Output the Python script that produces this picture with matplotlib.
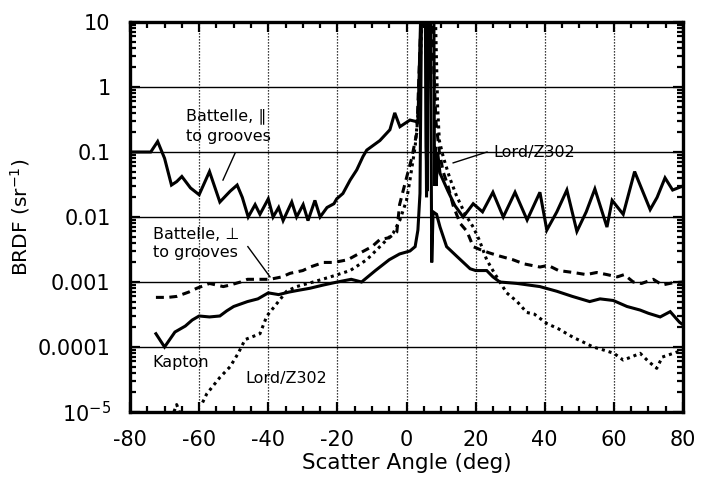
import numpy as np
import matplotlib
matplotlib.use("Agg")
import matplotlib.pyplot as plt
from matplotlib.ticker import FixedLocator, FixedFormatter, LogLocator, NullFormatter

# ---- data ----
bat_par_x = [-80, -74, -72, -70, -68, -66.5, -65, -62.5, -60, -57, -54, -52, -51, -49, -47.5,
             -45.8, -43.8, -42.4, -40, -38.6, -37, -35.7, -33.2, -31.8, -29.9, -28.5, -26.5,
             -25, -23, -21, -20.2, -18.4, -16.3, -14.4, -12.6, -11.5, -7.7, -4.8, -3.4, -1.9,
             1, 3.3, 4.3, 5.6, 5.7, 6.0, 6.3, 7.9, 8.1, 8.3, 8.6, 9.0, 9.7, 12, 14, 16.4, 19.3,
             22, 25, 28, 31.4, 34.9, 38.6, 40.6, 43.5, 46.4, 49.3, 52, 54.5, 58, 59.5, 62.7,
             66, 70.5, 72.5, 74.8, 77, 80]
bat_par_y = [0.1, 0.1, 0.145, 0.08, 0.031, 0.035, 0.042, 0.028, 0.022, 0.05, 0.017, 0.022,
             0.025, 0.031, 0.02, 0.01, 0.0155, 0.011, 0.019, 0.01, 0.014, 0.0088, 0.017, 0.01,
             0.0155, 0.0088, 0.018, 0.01, 0.014, 0.016, 0.019, 0.023, 0.037, 0.053, 0.085,
             0.107, 0.15, 0.22, 0.4, 0.245, 0.31, 0.29, 30, 30, 0.12, 0.025, 30, 30, 0.03,
             0.12, 0.03, 0.1, 0.047, 0.025, 0.015, 0.01, 0.016, 0.012, 0.024, 0.01, 0.024,
             0.009, 0.024, 0.0063, 0.012, 0.026, 0.006, 0.012, 0.027, 0.007, 0.018, 0.011,
             0.05, 0.013, 0.02, 0.04, 0.026, 0.03]

kapton_x = [-72.5, -70, -67, -64, -62, -60, -57, -54, -52, -50, -46, -43, -40, -37, -34,
            -31, -28, -24, -20, -16, -13, -9, -5, -2, 1, 2.5, 3.3, 3.9, 4.4, 5.4, 5.8, 6.4,
            6.9, 7.3, 7.7, 8.7, 9.7, 11.6, 14.5, 18.4, 20, 23.2, 25, 27, 32, 38.6, 43.5, 48,
            53, 56, 59.8, 63.8, 67.6, 70, 73.4, 76.3, 79, 80]
kapton_y = [0.00016, 0.0001, 0.00017, 0.00021, 0.00026, 0.0003, 0.00029, 0.0003, 0.00036,
            0.00042, 0.0005, 0.00055, 0.00068, 0.00064, 0.0007, 0.00075, 0.0008, 0.0009,
            0.001, 0.0011, 0.001, 0.0015, 0.0022, 0.0027, 0.003, 0.0035, 0.0063, 0.023, 30,
            30, 0.02, 30, 30, 0.002, 0.012, 0.011, 0.007, 0.0035, 0.0025, 0.0016, 0.0015,
            0.0015, 0.0012, 0.001, 0.00095, 0.00085, 0.00072, 0.0006, 0.0005, 0.00055,
            0.00052, 0.00042, 0.00037, 0.00033, 0.00029, 0.00035, 0.00024, 0.00022]

bat_perp_x = [-72.5, -69, -66.5, -63, -60.7, -57, -53, -51, -48, -46, -42, -39.5, -36, -33.7,
              -30, -27.9, -24, -21, -17, -13.4, -10, -7.7, -5, -2.8, -2, -1, 0, 1.5, 3, 4.5,
              7, 8.5, 9.5, 10.6, 12, 13.5, 15.5, 17.5, 19.3, 21, 24, 27, 30.8, 34, 38.6, 41,
              44, 48.3, 52, 55, 58, 61, 63, 65.6, 68, 71.4, 74, 77, 80]
bat_perp_y = [0.00058, 0.00058, 0.0006, 0.0007, 0.0008, 0.00095, 0.00085, 0.0009, 0.001,
              0.0011, 0.0011, 0.0011, 0.0012, 0.00136, 0.0015, 0.0017, 0.002, 0.002, 0.0022,
              0.0028, 0.0035, 0.0045, 0.0048, 0.0059, 0.0155, 0.025, 0.04, 0.08, 0.2, 30, 30,
              0.3, 0.1, 0.05, 0.03, 0.015, 0.008, 0.006, 0.0035, 0.0032, 0.0028, 0.0025,
              0.0022, 0.0019, 0.0017, 0.0018, 0.0015, 0.0014, 0.0013, 0.0014, 0.0013, 0.0012,
              0.0013, 0.001, 0.00095, 0.0011, 0.0009, 0.00097, 0.001]

lord_x = [-68, -66.5, -65, -62, -59, -57.8, -54, -51, -48.7, -46.7, -42.4, -40.4, -37.6,
          -34.7, -31.8, -27, -22, -16.3, -11.5, -7.7, -3.9, -1.9, 0, 1, 2.5, 3.5, 4.8, 8.2,
          9.0, 9.5, 10.6, 12.5, 14.5, 17, 19.3, 21, 23.2, 25, 27, 29, 32, 34.8, 37, 40.6,
          44, 48.3, 51, 54, 57, 60, 62.7, 65, 67.6, 70, 72.4, 74, 77.2, 80]
lord_y = [8e-6, 1.3e-5, 8e-6, np.nan, 1.4e-5, 1.9e-5, 3.4e-5, 5e-5, 8e-5, 1.3e-4, 1.6e-4,
          3e-4, 4.6e-4, 7.2e-4, 8.5e-4, 1e-3, 1.2e-3, 1.5e-3, 2.2e-3, 3.5e-3, 5.6e-3, 9e-3,
          0.018, 0.037, 0.12, 0.5, 30, 30, 0.5, 0.15, 0.085, 0.04, 0.021, 0.011, 0.007,
          0.0045, 0.0022, 0.0015, 0.001, 0.00068, 0.0005, 0.00034, 0.00032, 0.00023,
          0.00019, 0.00014, 0.00012, 0.0001, 9e-5, 8e-5, 6.3e-5, 7e-5, 8e-5, 6e-5, 4.7e-5,
          7e-5, 8e-5, 9e-5]

x_ticks = [-80, -60, -40, -20, 0, 20, 40, 60, 80]
x_ticklabels = ["-80", "-60", "-40", "-20", "0", "20", "40", "60", "80"]
y_ticks = [1e-5, 1e-4, 1e-3, 1e-2, 1e-1, 1, 10]
y_ticklabels = ["10$^{-5}$", "0.0001", "0.001", "0.01", "0.1", "1", "10"]

# ---- figure ----
plt.rcParams['font.family'] = ['DejaVu Sans']
fig = plt.figure(figsize=(7.04, 4.86), dpi=100)
ax = fig.add_axes([130 / 704, 74 / 486, 553 / 704, 390 / 486])
ax.set_yscale('log')
ax.set_xlim(-80, 80)
ax.set_ylim(1e-5, 10)

# grid
for yv in y_ticks[1:-1]:
    ax.axhline(yv, color='black', lw=1.0, zorder=1)
for xv in x_ticks[1:-1]:
    ax.axvline(xv, color='black', lw=0.9, ls=(0, (1, 1.4)), zorder=1)

lw = 2.2
ax.plot(bat_par_x, bat_par_y, color='black', lw=lw, zorder=3, solid_joinstyle='miter')
ax.plot(kapton_x, kapton_y, color='black', lw=lw, zorder=3, solid_joinstyle='miter')
ax.plot(bat_perp_x, bat_perp_y, color='black', lw=lw, ls=(0, (2.6, 1.8)), zorder=3)
ax.plot(lord_x, lord_y, color='black', lw=lw, ls=(0, (1.0, 1.3)), zorder=3)

# ticks
ax.xaxis.set_major_locator(FixedLocator(x_ticks))
ax.xaxis.set_major_formatter(FixedFormatter(x_ticklabels))
ax.xaxis.set_minor_locator(FixedLocator(np.arange(-80, 81, 5)))
ax.yaxis.set_major_locator(FixedLocator(y_ticks))
ax.yaxis.set_major_formatter(FixedFormatter(y_ticklabels))
ax.yaxis.set_minor_locator(LogLocator(base=10, subs=np.arange(2, 10), numticks=20))
ax.yaxis.set_minor_formatter(NullFormatter())
ax.tick_params(axis='both', which='both', direction='in', top=True, right=True,
               color='black', width=1.6)
ax.tick_params(axis='both', which='major', length=7)
ax.tick_params(axis='both', which='minor', length=4.5)
ax.tick_params(axis='x', which='major', labelsize=15, pad=13)
ax.tick_params(axis='y', which='major', labelsize=15, pad=14)
for sp in ax.spines.values():
    sp.set_linewidth(2.4)
    sp.set_zorder(5)

ax.set_xlabel("Scatter Angle (deg)", fontsize=15.5, labelpad=2)
ax.set_ylabel("BRDF (sr$^{-1}$)", fontsize=14.5, labelpad=4)

# annotations
fs = 11.5
ax.text(-63.8, 0.25, "Battelle, \u2225\nto grooves", fontsize=fs, ha='left', va='center',
        linespacing=1.35, family=['DejaVu Sans'], zorder=6)
ax.plot([-49.6, -53.1], [0.096, 0.037], color='black', lw=1.0, zorder=6)

ax.text(-73.3, 0.0039, "Battelle, \u22a5\nto grooves", fontsize=fs, ha='left', va='center',
        linespacing=1.3, family=['DejaVu Sans'], zorder=6)
ax.plot([-45.9, -39.5], [0.0035, 0.0012], color='black', lw=1.0, zorder=6)

ax.text(25.2, 0.1, "Lord/Z302", fontsize=fs, ha='left', va='center', zorder=6)
ax.plot([23.3, 13.5], [0.1, 0.068], color='black', lw=1.0, zorder=6)

ax.text(-73.6, 5.7e-5, "Kapton", fontsize=fs, ha='left', va='center', zorder=6)
ax.text(-46.7, 3.3e-5, "Lord/Z302", fontsize=fs, ha='left', va='center', zorder=6)

fig.savefig("out.png", dpi=100)
